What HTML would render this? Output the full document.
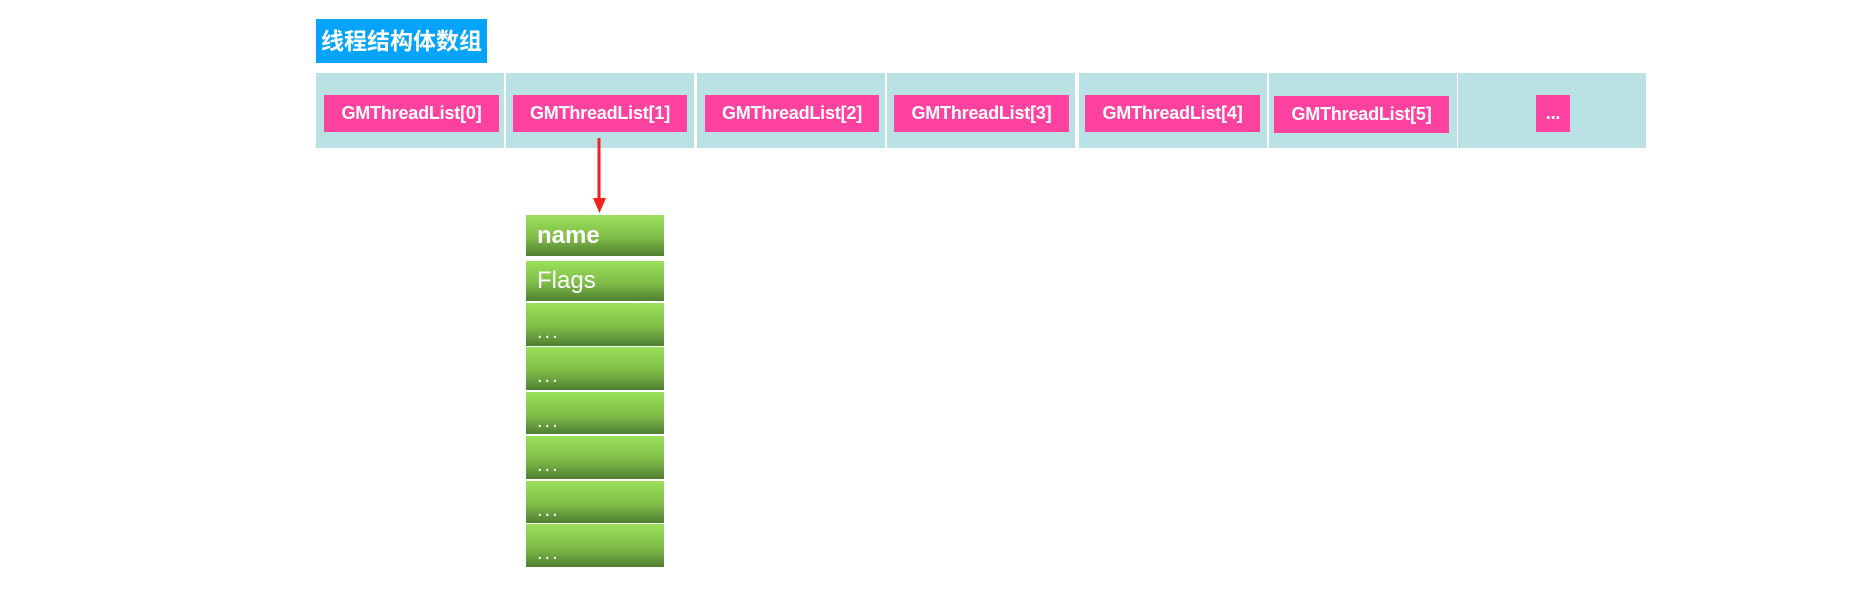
<!DOCTYPE html>
<html><head><meta charset="utf-8"><style>
body{margin:0;width:1852px;height:604px;background:#fff;position:relative;overflow:hidden;font-family:"Liberation Sans","Noto Sans CJK SC",sans-serif}
.t{position:absolute;left:316px;top:19px;width:171px;height:44px;background:#04a3fd;color:#fff;font-weight:bold;font-size:23px;line-height:44px;text-align:center;font-family:"Liberation Sans","Noto Sans CJK SC",sans-serif}
.c{position:absolute;top:73px;width:188px;height:75px;background:#bae1e3}
.l{position:absolute;top:22px;height:37px;background:#ff429f;color:#fff;font-size:18px;font-weight:bold;line-height:37px;text-align:center;letter-spacing:-0.2px}
.g{position:absolute;left:526px;width:138px;background:linear-gradient(#9be05a,#7fbd48 55%,#4f7f32);color:#fff;font-size:24px;box-sizing:border-box;padding-left:11px}
.d{font-size:20px;line-height:58px;letter-spacing:2px}
</style></head><body>
<div class="t">线程结构体数组</div>
<div class="c" style="left:316px"><div class="l" style="left:8px;width:175px">GMThreadList[0]</div></div>
<div class="c" style="left:506px"><div class="l" style="left:7px;width:174px">GMThreadList[1]</div></div>
<div class="c" style="left:697px"><div class="l" style="left:8px;width:174px">GMThreadList[2]</div></div>
<div class="c" style="left:887px"><div class="l" style="left:7px;width:175px">GMThreadList[3]</div></div>
<div class="c" style="left:1079px"><div class="l" style="left:6px;width:175px">GMThreadList[4]</div></div>
<div class="c" style="left:1269px"><div class="l" style="left:5px;width:175px;top:23px">GMThreadList[5]</div></div>
<div class="c" style="left:1458px"><div class="l" style="left:78px;width:34px">...</div></div>
<svg style="position:absolute;left:0;top:0" width="1852" height="604">
<line x1="599" y1="138" x2="599" y2="200" stroke="#f4221a" stroke-width="3"/>
<polygon points="593,198 606,198 599.5,213" fill="#f4221a"/>
</svg>
<div class="g" style="top:215px;height:41px;line-height:41px;font-weight:bold">name</div>
<div class="g" style="top:261px;height:40px;line-height:40px">Flags</div>
<div class="g d" style="top:303px;height:43px">...</div>
<div class="g d" style="top:347px;height:43px">...</div>
<div class="g d" style="top:392px;height:42px">...</div>
<div class="g d" style="top:436px;height:43px">...</div>
<div class="g d" style="top:481px;height:42px">...</div>
<div class="g d" style="top:524px;height:43px">...</div>
</body></html>
